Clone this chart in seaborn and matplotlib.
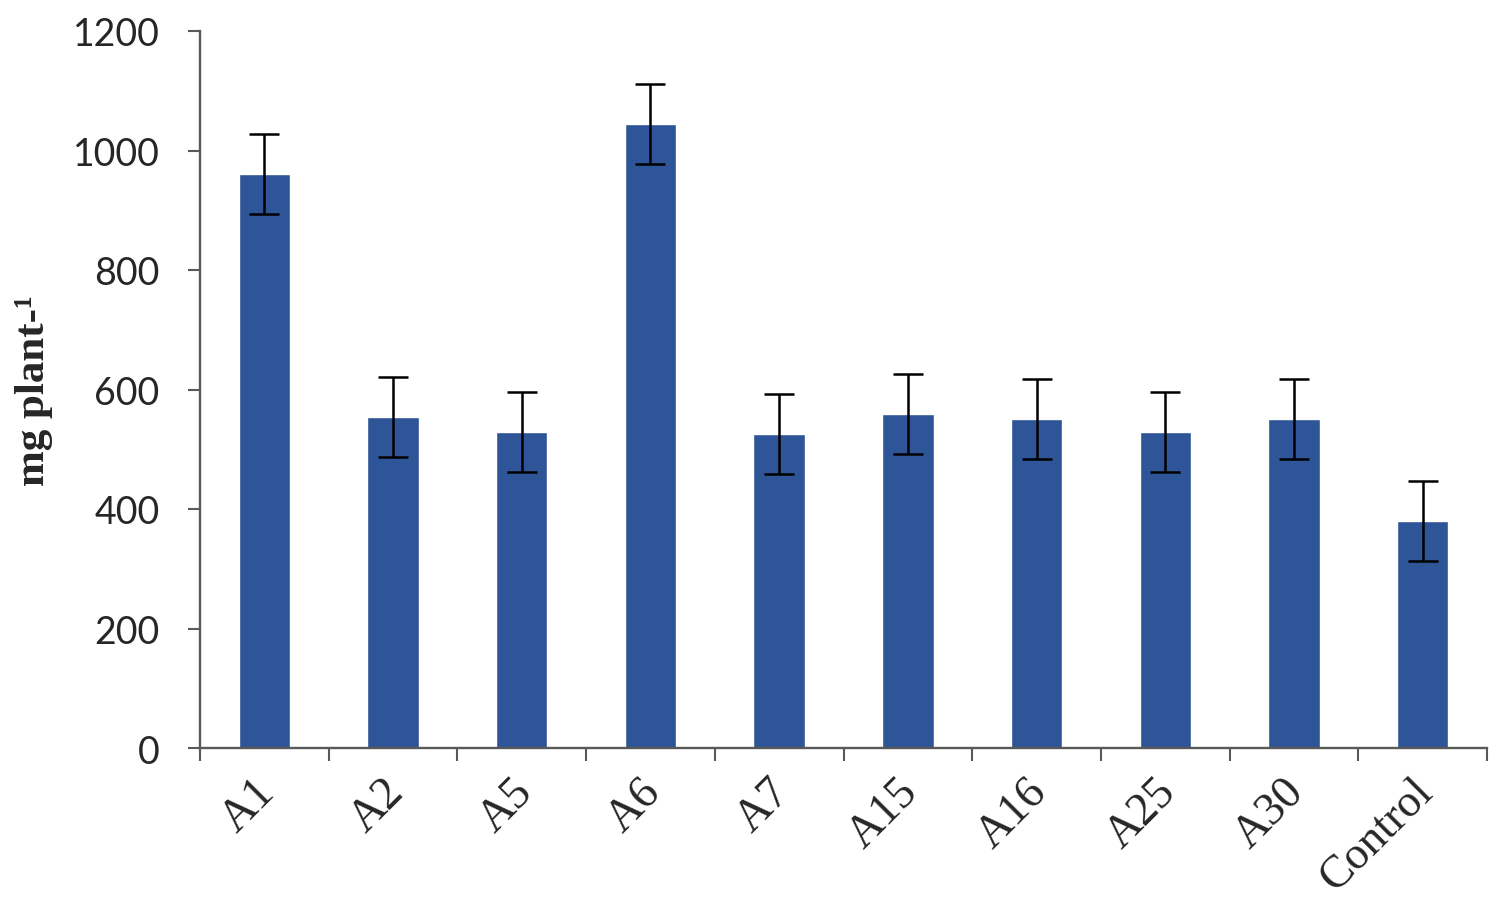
#!/usr/bin/env python3
"""
Bar chart of mg plant-1 per isolate with error bars
"""

import matplotlib
matplotlib.use('Agg')
import matplotlib.pyplot as plt
import matplotlib.transforms as mtransforms
import seaborn as sns
import pandas as pd
import numpy as np

# Data
categories = ['A1', 'A2', 'A5', 'A6', 'A7', 'A15', 'A16', 'A25', 'A30', 'Control']
values = [960, 554, 529, 1044, 525, 559, 551, 529, 551, 380]
errors = [67, 67, 67, 67, 67, 67, 67, 67, 67, 67]
y_ticks = [0, 200, 400, 600, 800, 1000, 1200]

bar_color = '#2E5597'
axis_gray = '#595959'

sns.set_style('white')

fig = plt.figure(figsize=(15.02, 9.12), dpi=100)
ax = fig.add_axes([200 / 1502, 1 - 749 / 912, (1487 - 200) / 1502, (749 - 32) / 912])

df = pd.DataFrame({'cat': categories, 'val': values})
sns.barplot(data=df, x='cat', y='val', color=bar_color, width=0.4,
            saturation=1, errorbar=None, ax=ax)

xpos = np.arange(len(categories))
ax.errorbar(xpos, values, yerr=errors, fmt='none', ecolor='black',
            elinewidth=1.8, capsize=11, capthick=1.8, zorder=5)

ax.set_xlim(-0.5, len(categories) - 0.5)
ax.set_ylim(0, 1200)
ax.set_yticks(y_ticks)
ax.set_yticklabels([str(t) for t in y_ticks], fontfamily='Lato', fontsize=27)

# category labels on minor ticks, tick marks at category boundaries
ax.set_xticks(np.arange(-0.5, len(categories), 1.0))
ax.set_xticklabels([])
ax.set_xticks(xpos, minor=True)
ax.set_xticklabels(categories, minor=True, rotation=45, ha='right', va='center',
                   rotation_mode='anchor', fontfamily='Liberation Serif', fontsize=33)
ax.tick_params(axis='x', which='minor', length=0, pad=27)
ax.tick_params(axis='x', which='major', direction='out', length=9, width=1.5,
               color=axis_gray, bottom=True)
ax.tick_params(axis='y', direction='out', length=9, width=1.5, color=axis_gray,
               left=True, pad=20)

for lbl in ax.get_xticklabels(minor=True):
    lbl.set_transform(lbl.get_transform() +
                      mtransforms.ScaledTranslation(4 / 100, 0, fig.dpi_scale_trans))

ax.set_xlabel('')
ax.set_ylabel('mg plant-¹', fontfamily='Liberation Serif', fontweight='bold',
              fontsize=31, labelpad=14)

for side in ['top', 'right']:
    ax.spines[side].set_visible(False)
for side in ['left', 'bottom']:
    ax.spines[side].set_color(axis_gray)
    ax.spines[side].set_linewidth(1.7)

fig.savefig('out.png', dpi=100)
